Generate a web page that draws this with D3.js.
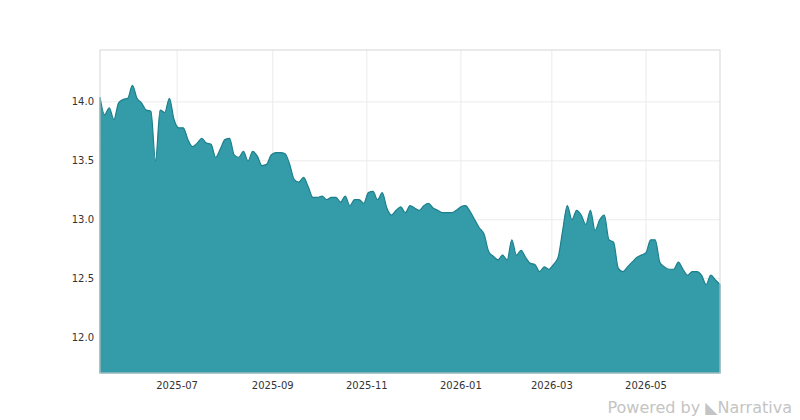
<!DOCTYPE html>
<html><head><meta charset="utf-8">
<script src="https://cdn.jsdelivr.net/npm/d3@7"></script>
<style>body{margin:0;background:#fff;font-family:"DejaVu Sans",sans-serif}</style>
</head><body><svg id="chart" width="800" height="420"></svg>
<script>
const startDate = new Date(2025, 4, 12)
const stepDays = 3
const values = [
  14.04, 13.89, 13.95, 13.85, 13.99, 14.02, 14.03, 14.14, 14.03, 13.99, 13.93, 13.92, 13.5, 13.93, 13.91, 14.03,
  13.85, 13.78, 13.78, 13.68, 13.62, 13.65, 13.69, 13.65, 13.64, 13.53, 13.60, 13.68, 13.69, 13.55, 13.53, 13.58,
  13.5, 13.58, 13.54, 13.46, 13.47, 13.55, 13.57, 13.57, 13.56, 13.47, 13.34, 13.32, 13.36, 13.28, 13.19, 13.19,
  13.20, 13.17, 13.19, 13.19, 13.15, 13.20, 13.12, 13.17, 13.17, 13.14, 13.23, 13.24, 13.17, 13.23, 13.10, 13.04,
  13.08, 13.11, 13.06, 13.12, 13.10, 13.08, 13.12, 13.14, 13.10, 13.08, 13.06, 13.06, 13.06, 13.08, 13.11, 13.12,
  13.07, 13.0, 12.93, 12.88, 12.73, 12.69, 12.66, 12.70, 12.66, 12.83, 12.70, 12.74, 12.68, 12.63, 12.62, 12.56,
  12.60, 12.58, 12.62, 12.68, 12.91, 13.12, 13.0, 13.08, 13.04, 12.96, 13.08, 12.91, 13.0, 13.04, 12.83, 12.81,
  12.59, 12.56, 12.60, 12.64, 12.68, 12.70, 12.72, 12.83, 12.83, 12.64, 12.60, 12.58, 12.58, 12.64, 12.58, 12.53,
  12.56, 12.56, 12.53, 12.45, 12.53, 12.49, 12.45
]
const yTicks = [12.0, 12.5, 13.0, 13.5, 14.0]
const xTicks = ['2025-07', '2025-09', '2025-11', '2026-01', '2026-03', '2026-05']

const data = values.map((v, i) => ({ date: d3.timeDay.offset(startDate, i * stepDays), value: v }))

const m = { top: 50, right: 80, bottom: 47, left: 100 }
const W = 800, H = 420
const svg = d3.select('#chart')

const x = d3.scaleTime().domain(d3.extent(data, d => d.date)).range([m.left, W - m.right])
const y = d3.scaleLinear().domain([11.7, 14.44]).range([H - m.bottom, m.top])
const parse = d3.timeParse('%Y-%m')

// grid
svg.append('g').selectAll('line').data(yTicks).join('line')
  .attr('x1', m.left).attr('x2', W - m.right)
  .attr('y1', d => y(d)).attr('y2', d => y(d))
  .attr('stroke', '#ebebeb')
svg.append('g').selectAll('line').data(xTicks).join('line')
  .attr('x1', d => x(parse(d))).attr('x2', d => x(parse(d)))
  .attr('y1', m.top).attr('y2', H - m.bottom)
  .attr('stroke', '#ebebeb')

svg.append('path').datum(data)
  .attr('fill', '#339ca8').attr('stroke', '#1d7f8c').attr('stroke-width', 1.2)
  .attr('d', d3.area().x(d => x(d.date)).y0(y(11.7)).y1(d => y(d.value)).curve(d3.curveMonotoneX))

svg.append('rect')
  .attr('x', m.left).attr('y', m.top)
  .attr('width', W - m.left - m.right).attr('height', H - m.top - m.bottom)
  .attr('fill', 'none').attr('stroke', '#d6d6d6')

svg.append('g').selectAll('text').data(yTicks).join('text')
  .attr('x', m.left - 6).attr('y', d => y(d)).attr('dy', '0.35em')
  .attr('text-anchor', 'end').attr('font-size', 10).attr('fill', '#333')
  .text(d => d.toFixed(1))
svg.append('g').selectAll('text').data(xTicks).join('text')
  .attr('x', d => x(parse(d))).attr('y', H - m.bottom + 12).attr('dy', '0.35em')
  .attr('text-anchor', 'middle').attr('font-size', 10).attr('fill', '#333')
  .text(d => d)

svg.append('text').attr('x', 792).attr('y', 413)
  .attr('text-anchor', 'end').attr('font-size', 16).attr('fill', '#c4c4c4')
  .text('Powered by  ◣Narrativa')
</script></body></html>
